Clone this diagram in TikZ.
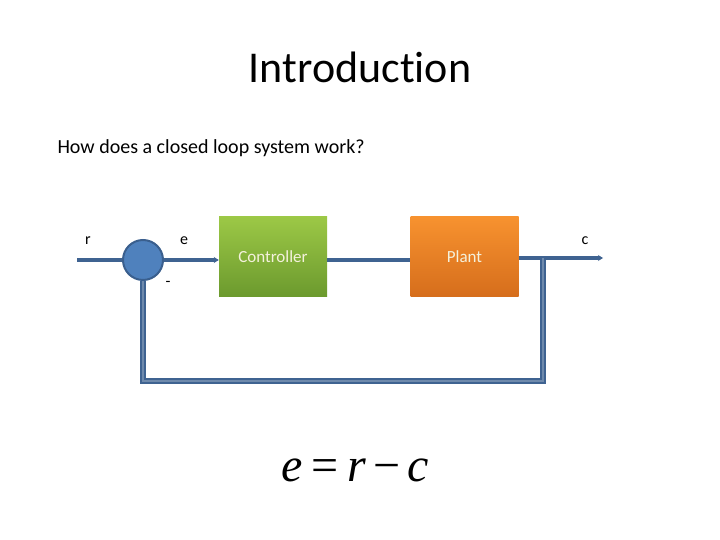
\documentclass[tikz,border=0pt]{standalone}
\usepackage{fontspec}
\setmainfont[Ligatures={NoCommon}]{Carlito}
\newfontfamily\tms{Liberation Serif}
\usetikzlibrary{arrows.meta}
\definecolor{linecol}{HTML}{3F6391}
\definecolor{sumfill}{HTML}{4F81BD}
\definecolor{sumdraw}{HTML}{3A5F8E}
\definecolor{greentop}{HTML}{9CC846}
\definecolor{greenbot}{HTML}{6C9A2E}
\definecolor{orangetop}{HTML}{F7922F}
\definecolor{orangebot}{HTML}{D66E1C}
\definecolor{boxtext}{HTML}{F4F1DC}
\tikzset{
  sig/.style={draw=linecol, line width=4.5pt},
  fb/.style={draw=linecol, line width=1.8pt, double=linecol!75!white, double distance=1.6pt},
  blk/.style={minimum width=108pt, minimum height=79pt, inner sep=0pt, text=boxtext, font=\fontsize{17}{20}\selectfont},
  lbl/.style={font=\fontsize{16}{18}\selectfont, inner sep=0pt},
  tip/.style={-{Stealth[length=5pt,width=6pt]}}
}
\begin{document}
\begin{tikzpicture}[x=1pt,y=-1pt]
\useasboundingbox (0,0) rectangle (720,540);
\node (title) at (360,67) {\fontsize{44}{50}\selectfont Introduction};
\node[anchor=west] (q) at (54,148) {\fontsize{20}{24}\selectfont How does a closed loop system work?};
\coordinate (rin) at (77,260);
\node[circle, fill=sumfill, draw=sumdraw, line width=2pt, minimum size=40pt, inner sep=0pt] (sum) at (143,260) {};
\node[blk, top color=greentop, bottom color=greenbot] (ctrl) at (273,256.5) {Controller};
\node[blk, top color=orangetop, bottom color=orangebot] (plant) at (464.5,256.5) {Plant};
\coordinate (cout) at (603,258);
\coordinate (tap) at (543,258);
\coordinate (br) at (543,381);
\coordinate (bl) at (143,381);
\node[lbl] (r) at (88,241) {r};
\node[lbl] (e) at (184,241) {e};
\node[lbl] (minus) at (168,284) {-};
\node[lbl] (c) at (585,241) {c};
\draw[sig] (rin) -- (sum.west);
\draw[sig, tip] (sum.east) -- (ctrl.west|-sum.east);
\draw[sig] (ctrl.east|-sum) -- (plant.west|-sum);
\draw[sig, tip] (plant.east|-cout) -- (cout);
\draw[fb] (tap) -- (br) -- (bl) -- (sum.south);
\node (eq) at (355,470) {\tms\fontsize{48}{52}\selectfont \textit{e}\hspace{9pt}=\hspace{9pt}\textit{r}\hspace{7pt}−\hspace{7pt}\textit{c}};
\end{tikzpicture}
\end{document}
